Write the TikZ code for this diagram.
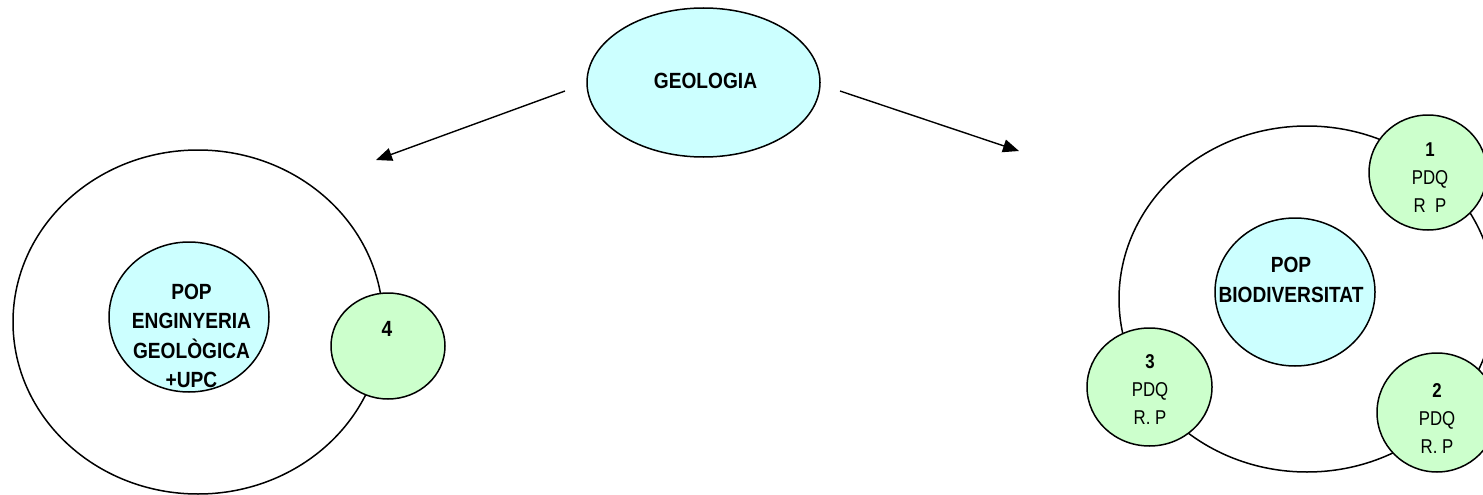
\documentclass[tikz,border=0pt]{standalone}
\usepackage{fontspec}
\setmainfont{Liberation Sans}
\newfontfamily\bignarrow[FakeStretch=0.87]{Liberation Sans}
\newfontfamily\smallnarrow[FakeStretch=0.84]{Liberation Sans}
\usetikzlibrary{shapes.geometric,arrows.meta}
\definecolor{cyanfill}{HTML}{CCFFFF}
\definecolor{greenfill}{HTML}{CCFFCC}
\begin{document}
\begin{tikzpicture}[x=1pt,y=-1pt,
  oval/.style={ellipse,draw=black,line width=1.5pt,inner sep=0pt},
  popoval/.style={oval,fill=cyanfill},
  pdqoval/.style={oval,fill=greenfill},
  bigtext/.style={font=\bignarrow\bfseries\fontsize{22}{29.5}\selectfont,align=center,inner sep=0pt},
  smalltext/.style={font=\smallnarrow\fontsize{20}{28}\selectfont,align=center,inner sep=0pt},
  arrowline/.style={line width=1.4pt,-{Triangle[length=16pt,width=13pt]}}]
\useasboundingbox (0,0) rectangle (1483,495);
% top
\node[popoval, minimum width=233pt, minimum height=149pt] (geo) at (703.5,82.5) {};
\node[bigtext] (geot) at (705.5,80.5) {GEOLOGIA};
% left group
\node[oval, minimum width=370pt, minimum height=344pt] (louter) at (198,322) {};
\node[popoval, minimum width=160pt, minimum height=150pt] (linner) at (189,317) {};
\node[pdqoval, minimum width=114pt, minimum height=106pt] (c4) at (388,346) {};
\node[bigtext] (lintext) at (191.5,336) {POP\\ENGINYERIA\\GEOLÒGICA\\+UPC};
\node[bigtext] (c4t) at (387,329) {4};
% right group
\node[oval, minimum width=376pt, minimum height=346pt] (router) at (1307,299) {};
\node[popoval, minimum width=160pt, minimum height=148pt] (rinner) at (1295,292) {};
\node[bigtext] (rintext) at (1291,280) {POP\\BIODIVERSITAT};
\node[pdqoval, minimum width=118pt, minimum height=115pt] (c1) at (1428,172.5) {};
\node[pdqoval, minimum width=120pt, minimum height=119pt] (c2) at (1437,412.5) {};
\node[pdqoval, minimum width=125pt, minimum height=118pt] (c3) at (1149.5,387) {};
\node[smalltext] (c1t) at (1430,178) {\textbf{1}\\PDQ\\R\ \ P};
\node[smalltext] (c2t) at (1437,419) {\textbf{2}\\PDQ\\R. P};
\node[smalltext] (c3t) at (1150,390) {\textbf{3}\\PDQ\\R. P};
% arrows
\coordinate (la) at (565,91);
\coordinate (lb) at (376,160);
\coordinate (ra) at (840,91);
\coordinate (rb) at (1019,151);
\draw[arrowline] (la) -- (lb);
\draw[arrowline] (ra) -- (rb);
\end{tikzpicture}
\end{document}
